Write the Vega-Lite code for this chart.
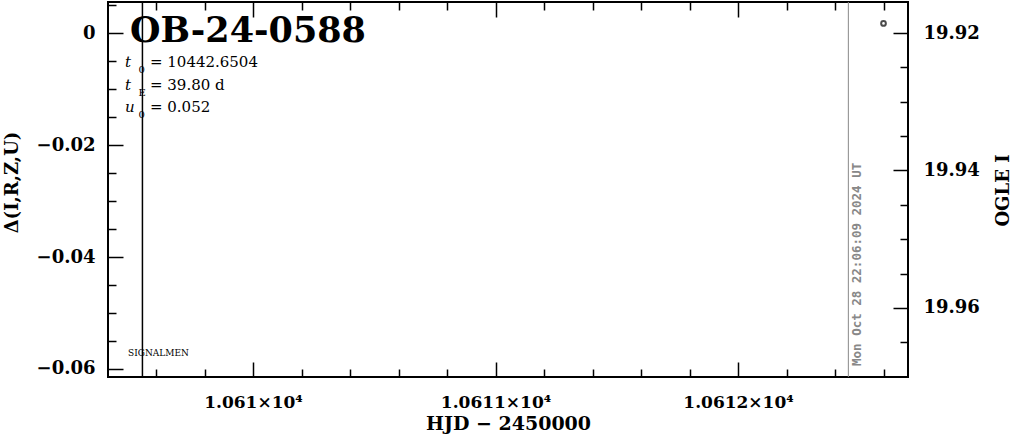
{
  "$schema": "https://vega.github.io/schema/vega-lite/v6.json",
  "autosize": {"type": "none"},
  "padding": {"left": 108, "top": 2, "right": 103, "bottom": 57},
  "width": 800,
  "height": 375,
  "background": "white",
  "config": {
    "view": {"stroke": "black", "strokeWidth": 2},
    "axis": {
      "domain": false,
      "grid": false,
      "tickColor": "black",
      "tickWidth": 1.5,
      "labelColor": "black",
      "labelFont": "DejaVu Serif",
      "labelFontWeight": "bold",
      "labelFontSize": 18,
      "labelOverlap": false,
      "labelBound": false,
      "labelFlush": false,
      "titleColor": "black",
      "titleFont": "DejaVu Serif",
      "titleFontWeight": "bold",
      "titleFontSize": 18
    }
  },
  "datasets": {
    "title": [{"x": 10609.493, "y": -0.0016, "label": "OB-24-0588"}],
    "italic": [
      {"x": 10609.472, "y": -0.006071, "label": "t"},
      {"x": 10609.472, "y": -0.010179, "label": "t"},
      {"x": 10609.472, "y": -0.014107, "label": "u"}
    ],
    "subs": [
      {"x": 10609.528, "y": -0.007143, "label": "0"},
      {"x": 10609.528, "y": -0.01125, "label": "E"},
      {"x": 10609.528, "y": -0.015179, "label": "0"}
    ],
    "params": [
      {"x": 10609.575, "y": -0.006071, "label": "= 10442.6504"},
      {"x": 10609.575, "y": -0.010179, "label": "= 39.80 d"},
      {"x": 10609.575, "y": -0.014107, "label": "= 0.052"}
    ],
    "signalmen": [{"x": 10609.4845, "y": -0.05768, "label": "SIGNALMEN"}],
    "stamp": [{"x": 10612.491, "y": -0.05946, "label": "Mon Oct 28 22:06:09 2024 UT"}],
    "blackline": [{"x": 10609.544}],
    "nowline": [{"x": 10612.455}],
    "obs": [{"hjd": 10612.6, "mag": 19.9186}]
  },
  "layer": [
    {
      "data": {"name": "title"},
      "mark": {"type": "text", "font": "DejaVu Serif", "fontWeight": "bold", "fontSize": 35, "align": "left", "baseline": "alphabetic", "fill": "black"},
      "encoding": {
        "x": {
          "field": "x", "type": "quantitative",
          "scale": {"domain": [10609.402, 10612.701], "nice": false, "zero": false},
          "axis": {
            "orient": "bottom",
            "title": "HJD − 2450000",
            "titleX": 400,
            "titleY": 46,
            "titleBaseline": "middle",
            "titleFontSize": 19,
            "values": [10609.6, 10609.8, 10610, 10610.2, 10610.4, 10610.6, 10610.8, 10611, 10611.2, 10611.4, 10611.6, 10611.8, 10612, 10612.2, 10612.4, 10612.6],
            "tickSize": {"condition": {"test": "abs(datum.value - round(datum.value)) < 1e-6", "value": -15}, "value": -8},
            "labelExpr": "abs(datum.value - round(datum.value)) < 1e-6 ? format(datum.value / 10000, '.5~f') + '×10⁴' : ''",
            "labelBaseline": "middle",
            "labelFontSize": 17,
            "labelPadding": 40
          }
        },
        "y": {
          "field": "y", "type": "quantitative",
          "scale": {"domain": [-0.06143, 0.00554], "nice": false, "zero": false},
          "axis": {
            "orient": "left",
            "title": "Δ(I,R,Z,U)",
            "titleX": -96,
            "titleY": 180,
            "titleAngle": 270,
            "titleBaseline": "middle",
            "values": [-0.06, -0.055, -0.05, -0.045, -0.04, -0.035, -0.03, -0.025, -0.02, -0.015, -0.01, -0.005, 0, 0.005],
            "tickSize": {"condition": {"test": "abs(datum.value * 50 - round(datum.value * 50)) < 1e-6", "value": -15}, "value": -8},
            "labelExpr": "abs(datum.value * 50 - round(datum.value * 50)) < 1e-6 ? format(datum.value, '.2~f') : ''",
            "labelPadding": 28
          }
        },
        "text": {"field": "label"}
      }
    },
    {
      "data": {"name": "italic"},
      "mark": {"type": "text", "font": "DejaVu Serif", "fontStyle": "italic", "fontSize": 15, "align": "left", "baseline": "alphabetic", "fill": "black"},
      "encoding": {
        "x": {"field": "x", "type": "quantitative", "scale": {"domain": [10609.402, 10612.701], "nice": false, "zero": false}, "axis": null},
        "y": {"field": "y", "type": "quantitative", "scale": {"domain": [-0.06143, 0.00554], "nice": false, "zero": false}, "axis": null},
        "text": {"field": "label"}
      }
    },
    {
      "data": {"name": "subs"},
      "mark": {"type": "text", "font": "DejaVu Serif", "fontSize": 10, "align": "left", "baseline": "alphabetic", "fill": "black"},
      "encoding": {
        "x": {"field": "x", "type": "quantitative", "scale": {"domain": [10609.402, 10612.701], "nice": false, "zero": false}, "axis": null},
        "y": {"field": "y", "type": "quantitative", "scale": {"domain": [-0.06143, 0.00554], "nice": false, "zero": false}, "axis": null},
        "text": {"field": "label"}
      }
    },
    {
      "data": {"name": "params"},
      "mark": {"type": "text", "font": "DejaVu Serif", "fontSize": 15, "align": "left", "baseline": "alphabetic", "fill": "black"},
      "encoding": {
        "x": {"field": "x", "type": "quantitative", "scale": {"domain": [10609.402, 10612.701], "nice": false, "zero": false}, "axis": null},
        "y": {"field": "y", "type": "quantitative", "scale": {"domain": [-0.06143, 0.00554], "nice": false, "zero": false}, "axis": null},
        "text": {"field": "label"}
      }
    },
    {
      "data": {"name": "signalmen"},
      "mark": {"type": "text", "font": "DejaVu Serif", "fontSize": 9, "align": "left", "baseline": "alphabetic", "fill": "black"},
      "encoding": {
        "x": {"field": "x", "type": "quantitative", "scale": {"domain": [10609.402, 10612.701], "nice": false, "zero": false}, "axis": null},
        "y": {"field": "y", "type": "quantitative", "scale": {"domain": [-0.06143, 0.00554], "nice": false, "zero": false}, "axis": null},
        "text": {"field": "label"}
      }
    },
    {
      "data": {"name": "stamp"},
      "mark": {"type": "text", "font": "DejaVu Sans Mono", "fontWeight": "bold", "fontSize": 12.5, "angle": 270, "align": "left", "baseline": "middle", "fill": "#888888"},
      "encoding": {
        "x": {"field": "x", "type": "quantitative", "scale": {"domain": [10609.402, 10612.701], "nice": false, "zero": false}, "axis": null},
        "y": {"field": "y", "type": "quantitative", "scale": {"domain": [-0.06143, 0.00554], "nice": false, "zero": false}, "axis": null},
        "text": {"field": "label"}
      }
    },
    {
      "data": {"name": "blackline"},
      "mark": {"type": "rule", "color": "black", "strokeWidth": 1.5},
      "encoding": {
        "x": {"field": "x", "type": "quantitative", "scale": {"domain": [10609.402, 10612.701], "nice": false, "zero": false}, "axis": null}
      }
    },
    {
      "data": {"name": "nowline"},
      "mark": {"type": "rule", "color": "#888888", "strokeWidth": 1},
      "encoding": {
        "x": {"field": "x", "type": "quantitative", "scale": {"domain": [10609.402, 10612.701], "nice": false, "zero": false}, "axis": null}
      }
    },
    {
      "data": {"name": "obs"},
      "mark": {"type": "point", "shape": "circle", "size": 22, "filled": false, "stroke": "black", "strokeWidth": 2},
      "encoding": {
        "x": {
          "field": "hjd", "type": "quantitative",
          "scale": {"domain": [10609.402, 10612.701], "nice": false, "zero": false},
          "axis": {
            "orient": "top",
            "title": null,
            "labels": false,
            "values": [10609.6, 10609.8, 10610, 10610.2, 10610.4, 10610.6, 10610.8, 10611, 10611.2, 10611.4, 10611.6, 10611.8, 10612, 10612.2, 10612.4, 10612.6],
            "tickSize": {"condition": {"test": "abs(datum.value - round(datum.value)) < 1e-6", "value": -15}, "value": -8}
          }
        },
        "y": {
          "field": "mag", "type": "quantitative",
          "scale": {"domain": [19.91549, 19.97004], "reverse": true, "nice": false, "zero": false},
          "axis": {
            "orient": "right",
            "title": "OGLE I",
            "titleX": 95,
            "titleY": 188,
            "titleAngle": 270,
            "titleBaseline": "middle",
            "values": [19.92, 19.925, 19.93, 19.935, 19.94, 19.945, 19.95, 19.955, 19.96, 19.965],
            "tickSize": {"condition": {"test": "abs(datum.value * 50 - round(datum.value * 50)) < 1e-6", "value": -15}, "value": -8},
            "labelExpr": "abs(datum.value * 50 - round(datum.value * 50)) < 1e-6 ? format(datum.value, '.2f') : ''",
            "labelPadding": 30
          }
        }
      }
    }
  ],
  "resolve": {"scale": {"y": "independent"}, "axis": {"x": "independent"}}
}
